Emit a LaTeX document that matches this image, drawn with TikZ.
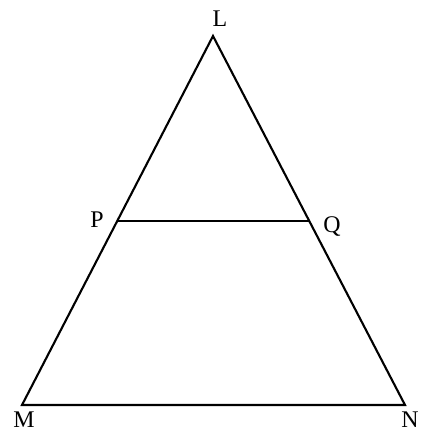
\documentclass[tikz,border=0pt]{standalone}
\usepackage{fontspec}
\setmainfont{Liberation Serif}

\begin{document}
\begin{tikzpicture}[x=0.025cm, y=-0.025cm, every node/.style={font=\fontsize{17}{19}\selectfont, inner sep=0pt}]
  \useasboundingbox (0,0) rectangle (421,433);
  % Vertices
  \coordinate (L) at (213,36);
  \coordinate (M) at (22,405);
  \coordinate (N) at (405,405);
  \coordinate (P) at (117.5,221);
  \coordinate (Q) at (309,221);
  % Triangle and segment PQ
  \draw[line width=1.5pt, line join=miter] (L) -- (M) -- (N) -- cycle;
  \draw[line width=1.5pt] (P) -- (Q);
  % Labels
  \node (labL) at (220,19) {L};
  \node (labM) at (24,420) {M};
  \node (labN) at (410,420) {N};
  \node (labP) at (97,220) {P};
  \node (labQ) at (332,227) {Q};
\end{tikzpicture}
\end{document}
